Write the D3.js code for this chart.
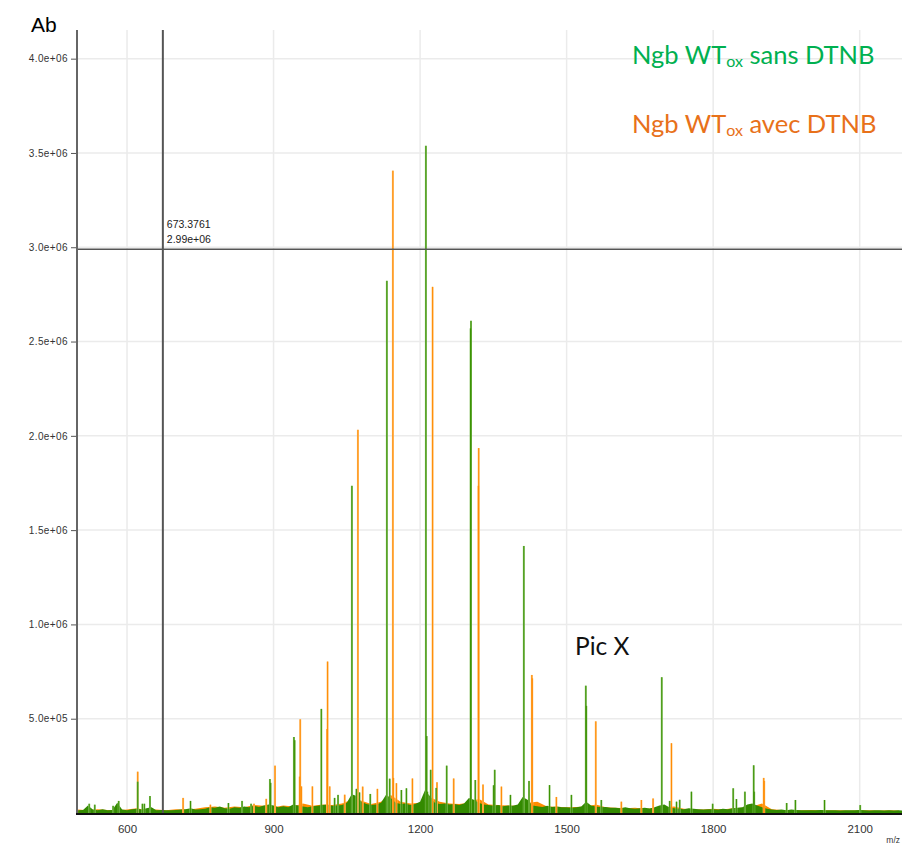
<!DOCTYPE html>
<html>
<head>
<meta charset="utf-8">
<script src="https://cdn.jsdelivr.net/npm/d3@7"></script>
<style>
  body { margin: 0; background: #fff; }
  svg { display: block; }
</style>
</head>
<body>
<svg id="chart" width="902" height="845"></svg>
<script>
// Axis ticks
const xTicks = [600, 900, 1200, 1500, 1800, 2100];
const yTicks = [5e5, 1e6, 1.5e6, 2e6, 2.5e6, 3e6, 3.5e6, 4e6];

// Baseline noise (kilo-counts), green sampled every 10 m/z, orange every 20 m/z, from m/z 500
const noiseStartMz = 500;
const greenNoiseStep = 10;
const orangeNoiseStep = 20;
const greenNoise = [
  14, 16, 40, 18, 15, 20, 14, 16, 55, 18,
  15, 20, 22, 18, 25, 30, 14, 16, 14, 15,
  16, 18, 20, 25, 18, 20, 22, 30, 28, 35,
  25, 22, 30, 28, 35, 30, 38, 32, 40, 45,
  40, 30, 36, 30, 45, 40, 35, 30, 36, 38,
  42, 45, 38, 40, 42, 55, 100, 90, 60, 48,
  42, 45, 55, 95, 80, 55, 48, 50, 42, 48,
  60, 120, 90, 55, 48, 50, 45, 48, 42, 50,
  80, 70, 55, 45, 42, 38, 42, 36, 40, 38,
  45, 85, 70, 40, 36, 32, 38, 32, 34, 30,
  30, 28, 30, 35, 60, 40, 35, 30, 32, 28,
  28, 25, 30, 25, 22, 25, 28, 24, 30, 40,
  45, 30, 25, 22, 20, 25, 22, 20, 18, 20,
  20, 18, 22, 20, 25, 28, 30, 45, 50, 40,
  30, 22, 18, 16, 18, 15, 18, 16, 15, 14,
  15, 14, 16, 15, 14, 15, 13, 14, 15, 14,
  16, 14, 13, 15, 14, 13, 14, 13, 14, 13
];
const orangeNoise = [
  18, 15, 20, 16, 14, 18, 25, 15, 18, 14,
  20, 18, 22, 30, 35, 28, 35, 30, 42, 38,
  30, 40, 35, 50, 38, 45, 42, 50, 70, 65,
  48, 60, 95, 60, 50, 55, 85, 60, 50, 48,
  55, 75, 45, 42, 40, 38, 55, 60, 35, 33,
  30, 32, 35, 45, 30, 28, 25, 28, 22, 25,
  30, 35, 22, 20, 18, 22, 18, 25, 28, 35,
  50, 20, 16, 15, 14, 16, 14, 15, 14, 13,
  15, 14, 13, 14, 13
];

// Centroided peaks [m/z, intensity]
const greenPeaks = [
  [522.6, 49e3], [534, 44e3], [571.5, 38e3], [583, 64e3], [621.9, 166e3],
  [631.5, 49e3], [635.5, 49e3], [647, 90e3], [730, 64e3], [807.6, 53e3],
  [835.5, 64e3], [854, 49e3], [892.6, 180e3], [894, 160e3], [941.7, 403e3],
  [943.2, 386e3], [997.8, 552e3], [1025, 80e3], [1032, 96e3], [1060.4, 1735e3],
  [1069.6, 128e3], [1076, 109e3], [1098, 101e3], [1132, 2822e3], [1137.8, 182e3],
  [1161.7, 122e3], [1172, 131e3], [1211.9, 3538e3], [1213.5, 408e3], [1215, 113e3],
  [1221.7, 229e3], [1233, 133e3], [1254.5, 251e3], [1303.4, 2570e3], [1304.2, 2610e3],
  [1313, 175e3], [1350.5, 147e3], [1352.8, 229e3], [1385, 96e3], [1412.4, 1416e3],
  [1423, 170e3], [1465, 148e3], [1509.8, 96e3], [1539.3, 675e3], [1540.3, 568e3],
  [1571, 69e3], [1694.8, 720e3], [1711, 64e3], [1725, 60e3], [1731.5, 70e3],
  [1755.5, 113e3], [1799, 49e3], [1841, 131e3], [1847.6, 74e3], [1865, 113e3],
  [1883, 253e3], [1884, 113e3], [1950.5, 53e3], [1968.4, 69e3], [2028, 69e3],
  [2101, 42e3]
];
const orangePeaks = [
  [621.9, 219e3], [714.8, 80e3], [770.7, 44e3], [860, 49e3], [885, 75e3],
  [903, 251e3], [953.5, 193e3], [954.6, 497e3], [957, 141e3], [979.5, 141e3],
  [1009.5, 445e3], [1010.6, 803e3], [1015, 141e3], [1045.7, 97e3], [1072.7, 2032e3],
  [1082.5, 140e3], [1112.6, 128e3], [1144.3, 3406e3], [1145.3, 186e3], [1151.5, 158e3],
  [1184.3, 183e3], [1225.6, 2790e3], [1234.6, 163e3], [1268.8, 183e3], [1319.4, 1735e3],
  [1320.0, 1935e3], [1328.8, 151e3], [1366.5, 140e3], [1428.8, 732e3], [1429.6, 714e3],
  [1479, 85e3], [1559.7, 486e3], [1612, 60e3], [1653, 69e3], [1677, 77e3],
  [1714.6, 370e3], [1903.5, 186e3], [1904.5, 170e3]
];

// Cursor readout
const cursorMz = 673.3761;
const cursorIntensity = 2.99e6;

const svg = d3.select("#chart");
const plotLeft = 77, plotRight = 902, plotTop = 30, plotBottom = 813;

const x = d3.scaleLinear().domain([497.6, 2186.6]).range([plotLeft, plotRight]);
const y = d3.scaleLinear().domain([0, 4.152e6]).range([plotBottom, plotTop]);

const expFix = s => s.replace(/e([+-])(\d)$/, "e$10$2");
const sciFormat = v => expFix(d3.format(".1e")(v));

// Grid
const grid = svg.append("g").attr("stroke", "#ebebeb").attr("stroke-width", 1.5);
grid.selectAll("line.v").data(xTicks).join("line").attr("class", "v")
  .attr("x1", d => x(d)).attr("x2", d => x(d)).attr("y1", plotTop).attr("y2", plotBottom);
grid.selectAll("line.h").data(yTicks).join("line").attr("class", "h")
  .attr("x1", plotLeft).attr("x2", plotRight).attr("y1", d => y(d)).attr("y2", d => y(d));

svg.append("clipPath").attr("id", "plot-clip")
  .append("rect").attr("x", plotLeft).attr("y", plotTop)
  .attr("width", plotRight - plotLeft).attr("height", plotBottom - plotTop);
const plot = svg.append("g").attr("clip-path", "url(#plot-clip)");

function noiseArea(step) {
  return d3.area()
    .x((d, i) => x(noiseStartMz + i * step))
    .y0(y(0))
    .y1(d => y(d * 1000));
}

plot.append("path").datum(orangeNoise).attr("d", noiseArea(orangeNoiseStep)).attr("fill", "#ff8c00");
plot.append("path").datum(greenNoise).attr("d", noiseArea(greenNoiseStep)).attr("fill", "#338a00");

function drawPeaks(data, light, dark) {
  const g = plot.append("g");
  g.selectAll("rect.halo").data(data).join("rect").attr("class", "halo")
    .attr("x", d => x(d[0]) - 1).attr("width", 2)
    .attr("y", d => y(d[1])).attr("height", d => y(0) - y(d[1]))
    .attr("fill", light);
  g.selectAll("rect.core").data(data).join("rect").attr("class", "core")
    .attr("x", d => x(d[0]) - 0.5).attr("width", 1)
    .attr("y", d => y(d[1])).attr("height", d => y(0) - y(d[1]))
    .attr("fill", dark);
}
drawPeaks(orangePeaks, "#ffc170", "#ff8a00");
drawPeaks(greenPeaks, "#8fc46e", "#3a9100");

// Cursor crosshair
svg.append("line").attr("x1", x(cursorMz)).attr("x2", x(cursorMz)).attr("y1", plotTop).attr("y2", plotBottom)
  .attr("stroke", "#555").attr("stroke-width", 2);
svg.append("line").attr("x1", plotLeft).attr("x2", plotRight)
  .attr("y1", y(cursorIntensity)).attr("y2", y(cursorIntensity))
  .attr("stroke", "#555").attr("stroke-width", 1.5);
const cur = svg.append("g").attr("font-family", "Liberation Sans, Arial, sans-serif")
  .attr("font-size", 10.5).attr("fill", "#222");
cur.append("text").attr("x", x(cursorMz) + 4).attr("y", y(cursorIntensity) - 21).text(cursorMz.toFixed(4));
cur.append("text").attr("x", x(cursorMz) + 4).attr("y", y(cursorIntensity) - 6)
  .text(expFix(d3.format(".2e")(cursorIntensity)));

// Axes
const yAxis = svg.append("g").attr("transform", `translate(${plotLeft},0)`)
  .call(d3.axisLeft(y).tickValues(yTicks).tickFormat(sciFormat).tickSize(6).tickPadding(3));
yAxis.select(".domain").remove();
yAxis.selectAll("text").attr("font-family", "Liberation Sans, Arial, sans-serif")
  .attr("font-size", 10).attr("letter-spacing", 0.4).attr("fill", "#333");
yAxis.selectAll("line").attr("stroke", "#555");

const xAxis = svg.append("g").attr("transform", `translate(0,${plotBottom})`)
  .call(d3.axisBottom(x).tickValues(xTicks).tickFormat(d3.format("d")).tickSize(0).tickPadding(12));
xAxis.select(".domain").remove();
xAxis.selectAll("text").attr("font-family", "Liberation Sans, Arial, sans-serif")
  .attr("font-size", 11.5).attr("fill", "#333");

svg.append("line").attr("x1", plotLeft).attr("x2", plotLeft).attr("y1", plotTop).attr("y2", plotBottom + 1)
  .attr("stroke", "#666").attr("stroke-width", 2);
svg.append("line").attr("x1", plotLeft - 1).attr("x2", plotRight).attr("y1", plotBottom + 1).attr("y2", plotBottom + 1)
  .attr("stroke", "#111").attr("stroke-width", 2);

svg.append("text").attr("x", 900).attr("y", 843).attr("text-anchor", "end")
  .attr("font-family", "Liberation Sans, Arial, sans-serif")
  .attr("font-size", 8.5).attr("fill", "#333").text("m/z");

// Titles
svg.append("text").attr("x", 31).attr("y", 32).attr("font-family", "Liberation Sans, Arial, sans-serif")
  .attr("font-size", 21).attr("fill", "#000").text("Ab");

function legendLine(yPos, rest, color) {
  const t = svg.append("text").attr("x", 632).attr("y", yPos)
    .attr("font-family", "Lato, 'Open Sans', sans-serif").attr("font-size", 25.5).attr("fill", color);
  t.append("tspan").text("Ngb WT");
  t.append("tspan").attr("font-size", 16).attr("dy", 3).text("ox");
  t.append("tspan").attr("dy", -3).text(" " + rest);
}
legendLine(64, "sans DTNB", "#00b050");
legendLine(133, "avec DTNB", "#e8711a");

svg.append("text").attr("x", 575).attr("y", 655).attr("font-family", "Lato, 'Open Sans', sans-serif")
  .attr("font-size", 24.5).attr("fill", "#111").text("Pic X");
</script>
</body>
</html>
